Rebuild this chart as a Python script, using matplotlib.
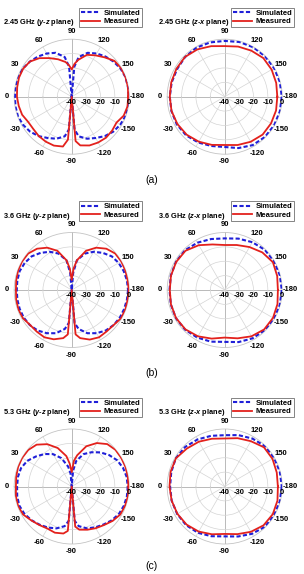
"""Radiation patterns (simulated vs measured) at 2.45, 3.6 and 5.3 GHz."""

import matplotlib
matplotlib.use("Agg")
import matplotlib.pyplot as plt
import numpy as np

plt.rcParams["font.family"] = "Liberation Sans"
plt.rcParams["mathtext.fontset"] = "custom"
plt.rcParams["mathtext.it"] = "Liberation Sans:italic:bold"
plt.rcParams["mathtext.rm"] = "Liberation Sans:bold"

# angle grids (deg)
ANG_YZ = [-180, -170, -160, -150, -140, -130, -120, -110, -100, -95, -90, -85, -80,
          -70, -60, -50, -40, -30, -20, -10, 0, 10, 20, 30, 40, 50, 60, 70, 80, 85,
          90, 95, 100, 110, 120, 130, 140, 150, 160, 170, 180]
ANG_ZX = [-180, -165, -150, -135, -120, -105, -90, -75, -60, -45, -30, -15, 0,
          15, 30, 45, 60, 75, 90, 105, 120, 135, 150, 165, 180]

# gain in dB
SIM_245_YZ = [-0.3, -0.3, -0.3, -1.0, -2.2, -4.2, -6.8, -8.9, -12, -17, -40, -17, -12,
              -8.9, -6.8, -4.2, -2.2, -0.9, -0.2, -0.3, -0.5, -0.3, -0.2, -0.8, -2.0, -3.5, -5.3, -7.5, -12, -19,
              -40, -19, -12, -7.5, -5.3, -3.5, -2.0, -0.8, -0.2, -0.3, -0.3]
MEAS_245_YZ = [-0.7, -0.6, -1.5, -4.0, -3.3, -2.8, -3.2, -3.9, -5.6, -9, -40, -10, -4.8,
               -3.8, -3.9, -4.3, -5.1, -5.0, -3.3, -2.6, -1.9, -1.5, -1.0, -1.0, -2.0, -5.0, -9.0, -12.3, -15.5, -18,
               -21, -17, -14, -9, -6.8, -4.3, -1.2, -0.3, -0.2, -0.3, -0.7]
SIM_245_ZX = [-0.3, -0.3, -0.3, -0.4, -1.1, -3.0, -5.0, -4.5, -3.2, -2.0, -1.5, -1.6, -1.8,
              -1.8, -1.7, -1.0, -0.6, -0.9, -1.2, -0.6, -0.3, -0.3, -0.3, -0.3, -0.3]
MEAS_245_ZX = [-3.4, -3.0, -2.8, -2.7, -3.8, -5.2, -6.4, -5.3, -3.9, -2.6, -2.0, -1.7, -1.8,
               -1.5, -1.2, -0.9, -2.0, -3.6, -4.8, -3.9, -3.0, -2.0, -2.3, -2.9, -3.4]

SIM_36_YZ = [-0.8, -1.0, -1.2, -1.4, -2.0, -3.2, -5.3, -8.0, -12.5, -17, -40, -17, -12.5,
             -8.0, -5.3, -3.2, -2.0, -1.5, -1.5, -1.6, -1.8, -1.6, -1.5, -2.3, -3.6, -6.3, -9.3, -13, -19, -28,
             -40, -28, -19, -13, -9.3, -6.3, -3.6, -2.3, -1.5, -1.0, -0.8]
MEAS_36_YZ = [-0.3, -0.5, -0.3, -0.5, -2.0, -2.3, -2.0, -3.3, -6, -9, -40, -9, -6,
              -3.5, -2.0, -2.2, -2.2, -0.8, -0.5, -0.8, -1.2, -0.8, -0.3, -0.2, -0.5, -2.5, -6.0, -11.0, -19, -25,
              -33, -25, -19, -11, -6.0, -2.5, -0.5, -0.2, -0.3, -0.5, -0.3]
SIM_36_ZX = [-0.3, -0.3, -0.3, -0.5, -1.2, -2.5, -3.9, -2.8, -1.8, -1.0, -0.8, -1.2, -1.6,
             -1.2, -0.8, -0.9, -2.0, -3.3, -4.1, -3.0, -1.6, -0.5, -0.3, -0.3, -0.3]
MEAS_36_ZX = [-3.0, -2.0, -1.2, -1.2, -2.8, -5.2, -6.9, -5.0, -2.8, -1.3, -0.9, -1.3, -1.8,
              -1.3, -1.0, -1.4, -4.0, -7.2, -8.7, -7.6, -5.5, -3.0, -1.3, -2.2, -3.0]

SIM_53_YZ = [-1.0, -1.0, -1.3, -2.0, -3.5, -5.5, -7.2, -9.0, -12.0, -16, -40, -16, -12,
             -9, -7, -5.3, -3.5, -2.0, -1.2, -1.5, -2.0, -2.0, -2.5, -4.3, -7.5, -10.5, -14, -19, -26, -31,
             -40, -29, -22, -16, -12.5, -9, -6, -3.5, -2.0, -1.2, -1.0]
MEAS_53_YZ = [-0.5, -0.3, -0.5, -1.0, -2.8, -5.0, -6.5, -8.0, -9.5, -12, -40, -9, -6.8,
              -5.8, -6.2, -5.0, -3.3, -1.0, -0.3, -0.6, -1.2, -0.8, -0.3, -0.2, -0.5, -2, -6, -11.5, -18.5, -24,
              -30, -22, -17.9, -10.2, -5.1, -1.5, -0.3, -0.2, -0.2, -0.4, -0.5]
SIM_53_ZX = [-0.3, -0.3, -0.3, -0.4, -2.0, -4.0, -5.3, -4.2, -2.8, -2.0, -1.8, -1.8, -2.0,
             -1.5, -0.7, -1.1, -2.2, -3.5, -4.3, -3.0, -1.5, -0.3, -0.3, -0.3, -0.3]
MEAS_53_ZX = [-3.0, -2.0, -1.4, -1.8, -3.6, -5.7, -7.0, -5.6, -3.8, -2.5, -2.0, -1.8, -1.6,
              -1.0, -0.8, -2.7, -4.0, -5.6, -6.6, -5.2, -3.6, -1.4, -1.6, -2.5, -3.0]

TITLES = ["2.45 GHz ($y$-$z$ plane)", "2.45 GHz ($z$-$x$ plane)",
          "3.6 GHz ($y$-$z$ plane)", "3.6 GHz ($z$-$x$ plane)",
          "5.3 GHz ($y$-$z$ plane)", "5.3 GHz ($z$-$x$ plane)"]
ROW_LABELS = ["(a)", "(b)", "(c)"]

THETA_TICKS = [0, 30, 60, 90, 120, 150, 180, 210, 240, 270, 300, 330]
THETA_LABELS = ["0", "30", "60", "90", "120", "150", "-180", "-150", "-120", "-90", "-60", "-30"]
R_TICKS = [-40, -30, -20, -10, 0]
R_LABELS = ["-40", "-30", "-20", "-10", "0"]

W, H = 304, 574
RAD = 57.5
COL_X = [71.7, 224.7]
ROW_Y = [96.7, 290.0, 486.5]
LABEL_Y = [180, 373, 566]

BLUE = "#1f1fd8"
RED = "#e3211c"


def setup_polar(ax):
    ax.set_theta_zero_location("W")
    ax.set_theta_direction(-1)
    ax.set_ylim(-40, 0)
    ax.set_yticks([-30, -20, -10])
    ax.set_yticklabels([])
    ax.set_xticks(np.deg2rad(THETA_TICKS))
    ax.set_xticklabels(THETA_LABELS, fontsize=5.5, fontweight="bold")
    ax.tick_params(axis="x", pad=-1.5, length=0)
    ax.grid(True, color="#d4d4d4", linewidth=0.5)
    ax.spines["polar"].set_color("#c4c4c4")
    ax.spines["polar"].set_linewidth(0.6)
    for a in (0, 90, 180, 270):
        ax.axvline(np.deg2rad(a), color="#6a6a6a", linewidth=0.6, zorder=1.5)
    for r, lab in zip(R_TICKS, R_LABELS):
        ax.annotate(lab, xy=(np.pi, r), xytext=(0, -1.5), textcoords="offset points",
                    ha="center", va="top", fontsize=5.5, fontweight="bold", zorder=5)


fig = plt.figure(figsize=(W / 100, H / 100), dpi=100)

data = [
    (ANG_YZ, SIM_245_YZ, MEAS_245_YZ), (ANG_ZX, SIM_245_ZX, MEAS_245_ZX),
    (ANG_YZ, SIM_36_YZ, MEAS_36_YZ), (ANG_ZX, SIM_36_ZX, MEAS_36_ZX),
    (ANG_YZ, SIM_53_YZ, MEAS_53_YZ), (ANG_ZX, SIM_53_ZX, MEAS_53_ZX),
]

for i, (ang, sim, meas) in enumerate(data):
    row, col = divmod(i, 2)
    cx, cy = COL_X[col], ROW_Y[row]
    ax = fig.add_axes([(cx - RAD) / W, 1 - (cy + RAD) / H, 2 * RAD / W, 2 * RAD / H],
                      projection="polar")
    setup_polar(ax)
    th = np.deg2rad(ang)
    ax.plot(th, sim, color=BLUE, linewidth=1.5, dashes=(2.0, 1.1), label="Simulated", zorder=3)
    ax.plot(th, meas, color=RED, linewidth=1.3, label="Measured", zorder=4)

    x0 = col * 152
    leg = ax.legend(loc="upper right", bbox_to_anchor=((x0 + 142) / W, 1 - (cy - 89) / H),
                    bbox_transform=fig.transFigure, prop=dict(weight="bold", size=5.5),
                    handlelength=2.4, handletextpad=0.5, borderpad=0.25, labelspacing=0.15,
                    fancybox=False, framealpha=1, edgecolor="#707070", borderaxespad=0)
    leg.get_frame().set_linewidth(0.6)

    fig.text((x0 + 3 + col * 3) / W, 1 - (cy - 74) / H, TITLES[i], fontsize=5.3,
             fontweight="bold", va="center", ha="left")

for row, lab in enumerate(ROW_LABELS):
    fig.text(0.5, 1 - LABEL_Y[row] / H, lab, ha="center", va="center", fontsize=7.5)

fig.savefig("out.png", dpi=100)
